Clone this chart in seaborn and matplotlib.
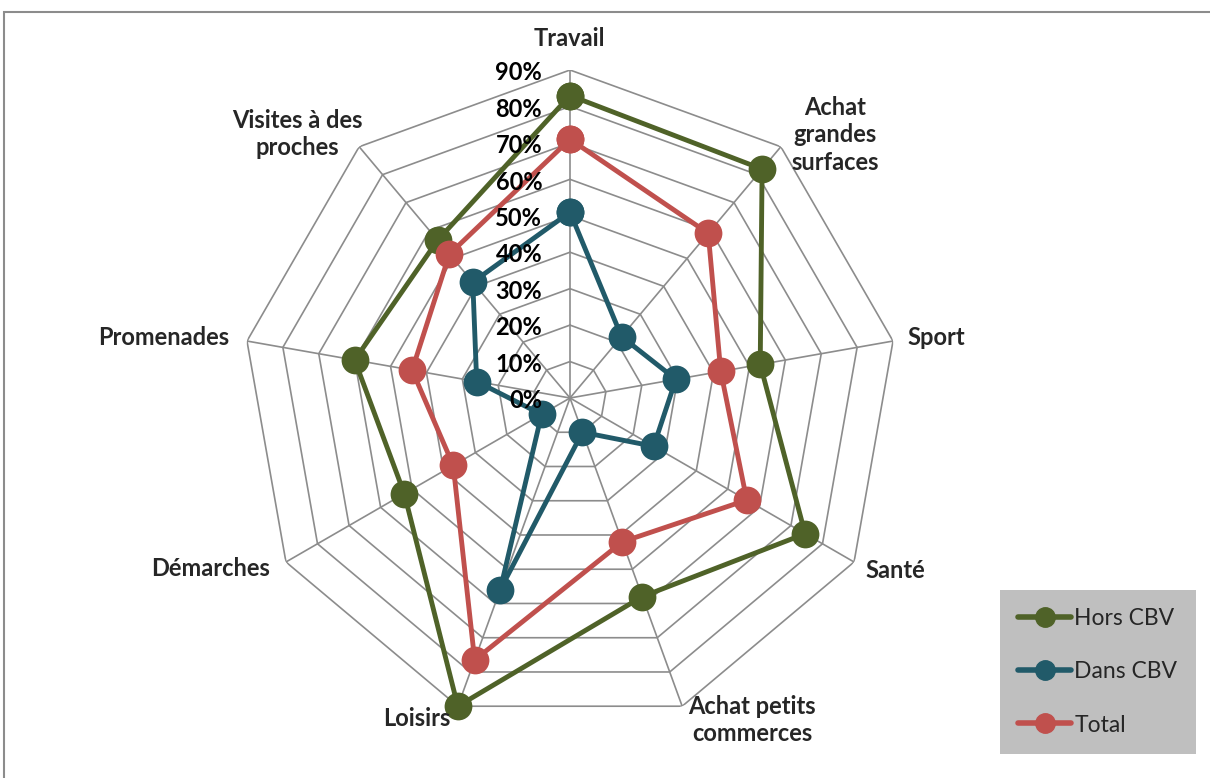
import numpy as np
import pandas as pd
import matplotlib
matplotlib.use("Agg")
import matplotlib.pyplot as plt
from matplotlib.patches import Rectangle
import seaborn as sns

categories = ["Travail", "Achat grandes surfaces", "Sport", "Santé",
              "Achat petits commerces", "Loisirs", "Démarches", "Promenades",
              "Visites à des proches"]
category_labels = ["Travail", "Achat\ngrandes\nsurfaces", "Sport", "Santé",
                   "Achat petits\ncommerces", "Loisirs", "Démarches", "Promenades",
                   "Visites à des\nproches"]
hors_cbv = [0.83, 0.82, 0.53, 0.745, 0.58, 0.90, 0.525, 0.60, 0.565]
dans_cbv = [0.51, 0.22, 0.295, 0.265, 0.10, 0.56, 0.09, 0.26, 0.415]
total = [0.71, 0.59, 0.42, 0.56, 0.42, 0.765, 0.37, 0.44, 0.515]
series_names = ["Hors CBV", "Dans CBV", "Total"]
tick_values = [0.0, 0.1, 0.2, 0.3, 0.4, 0.5, 0.6, 0.7, 0.8, 0.9]
tick_labels = ["0%", "10%", "20%", "30%", "40%", "50%", "60%", "70%", "80%", "90%"]

colors = {"Hors CBV": "#4F6228", "Dans CBV": "#215A69", "Total": "#C0504D"}

sns.set_theme(style="white")
plt.rcParams["font.family"] = ["Lato", "DejaVu Sans"]

n = len(categories)
angles = np.arange(n) * 2 * np.pi / n

# long-form table, each series closed back on its first point
rows = []
for name, vals in zip(series_names, [hors_cbv, dans_cbv, total]):
    for a, v in zip(list(angles) + [2 * np.pi], list(vals) + [vals[0]]):
        rows.append({"theta": a, "value": v, "serie": name})
df = pd.DataFrame(rows)

W, H = 1210, 778
fig = plt.figure(figsize=(W / 100, H / 100), dpi=100)
cx, cy, R = 570, 398, 328
ax = fig.add_axes([(cx - R) / W, (H - cy - R) / H, 2 * R / W, 2 * R / H],
                  projection="polar")
ax.set_theta_zero_location("N")
ax.set_theta_direction(-1)
ax.set_ylim(0, 0.9)
ax.grid(False)
ax.spines["polar"].set_visible(False)
ax.set_xticks([])
ax.set_yticks([])
ax.set_facecolor("none")

# polygonal web
grid_col = "#8C8C8C"
ring = np.append(angles, angles[0])
for t in tick_values[1:]:
    ax.plot(ring, [t] * len(ring), color=grid_col, lw=1.2, zorder=1)
for a in angles:
    ax.plot([a, a], [0, 0.9], color=grid_col, lw=1.2, zorder=1)

n_grid = len(ax.lines)
sns.lineplot(data=df, x="theta", y="value", hue="serie", palette=colors,
             hue_order=series_names, sort=False, estimator=None, marker="o",
             markersize=20, markeredgewidth=0, linewidth=3.5, ax=ax, zorder=3)
for ln in ax.lines[n_grid:]:
    ln.set_clip_on(False)
ax.set_xlabel("")
ax.set_ylabel("")

# radial tick labels beside the top spoke
for v, lab in zip(tick_values, tick_labels):
    ax.annotate(lab, xy=(0, v), xytext=(-20, -2), textcoords="offset points",
                ha="right", va="center", fontsize=17, fontweight="bold",
                color="black", zorder=4)

# category labels
label_pos = [(569, 38), (835, 135), (936, 338), (895, 570), (752, 720),
             (417, 718), (211, 569), (164, 338), (297, 134)]
for lab, (px, py) in zip(category_labels, label_pos):
    fig.text(px / W, 1 - py / H, lab, ha="center", va="center", fontsize=17,
             fontweight="bold", linespacing=1.25)

# legend
ax.get_legend().remove()
handles = [plt.Line2D([], [], color=colors[s], lw=4, marker="o", markersize=14)
           for s in series_names]
leg = fig.legend(handles, series_names, loc="upper left",
                 bbox_to_anchor=(1000 / W, 1 - 590 / H), frameon=True,
                 facecolor="#BFBFBF", edgecolor="none", framealpha=1,
                 fancybox=False, fontsize=16.5, handlelength=2.3,
                 handletextpad=0.15, labelspacing=1.4, borderpad=0.8,
                 borderaxespad=0)

# chart area border
fig.patches.append(Rectangle((4 / W, -0.05), 1.1, 1 - 12 / H + 0.05,
                             transform=fig.transFigure, fill=False,
                             edgecolor="#8C8C8C", lw=1.5))

fig.savefig("out.png", dpi=100)
